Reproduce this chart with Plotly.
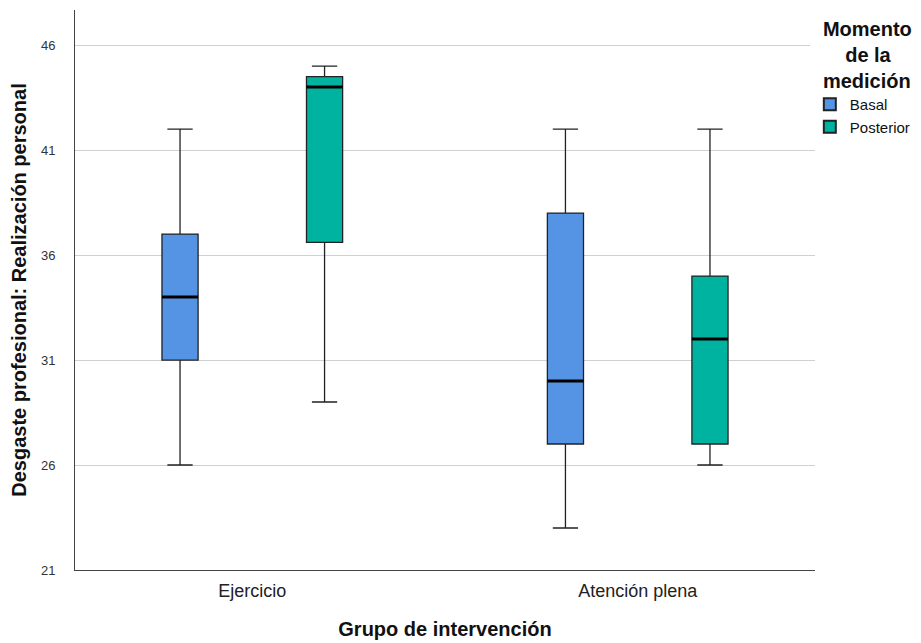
import plotly.graph_objects as go

categories = ["Ejercicio", "Atención plena"]
series = ["Basal", "Posterior"]
colors = {"Basal": "#5594E4", "Posterior": "#00B2A0"}

lower = {"Basal": [26, 23], "Posterior": [29, 26]}
q1 = {"Basal": [31, 27], "Posterior": [36.6, 27]}
median = {"Basal": [34, 30], "Posterior": [44, 32]}
q3 = {"Basal": [37, 38], "Posterior": [44.5, 35]}
upper = {"Basal": [42, 42], "Posterior": [45, 42]}

yticks = [21, 26, 31, 36, 41, 46]

fig = go.Figure()
for s in series:
    fig.add_trace(go.Box(
        name=s,
        x=categories,
        offsetgroup=s,
        q1=q1[s], median=median[s], q3=q3[s],
        lowerfence=lower[s], upperfence=upper[s],
        fillcolor=colors[s],
        line=dict(color="#222222", width=1.3),
        whiskerwidth=0.7,
        boxpoints=False,
        hoverinfo="skip",
    ))
# thicker median lines, drawn as degenerate boxes at the median
for s in series:
    fig.add_trace(go.Box(
        name=s + " mediana",
        x=categories,
        offsetgroup=s,
        q1=median[s], median=median[s], q3=median[s],
        lowerfence=median[s], upperfence=median[s],
        fillcolor="rgba(0,0,0,0)",
        line=dict(color="#000000", width=3),
        whiskerwidth=0,
        boxpoints=False,
        showlegend=False,
        hoverinfo="skip",
    ))

fig.update_layout(
    boxmode="group",
    boxgap=0.25,
    boxgroupgap=0.75,
    width=921, height=643,
    margin=dict(l=67, r=114, t=2, b=81),
    plot_bgcolor="white",
    paper_bgcolor="white",
    font=dict(family="Liberation Sans, Arial, sans-serif", color="#222222"),
    legend=dict(
        title=dict(text="<b>&nbsp;&nbsp;Momento<br>&nbsp;&nbsp;&nbsp;&nbsp;&nbsp;&nbsp;de la<br>&nbsp;&nbsp;medición</b>",
                   font=dict(size=20, color="#111111")),
        x=0.993, xanchor="left", y=1.0, yanchor="top",
        font=dict(size=15, color="#111111"),
        tracegroupgap=0,
        itemsizing="constant",
    ),
    xaxis=dict(
        type="category",
        range=[-0.46, 1.46],
        showline=True, linecolor="#444444", linewidth=1,
        ticks="", tickfont=dict(size=18, color="#222222"),
        ticklabelstandoff=4,
        title=dict(text="<b>Grupo de intervención</b>", font=dict(size=20, color="#111111"), standoff=22),
        showgrid=False,
    ),
    yaxis=dict(
        range=[21, 47.67],
        tickvals=yticks,
        showline=True, linecolor="#444444", linewidth=1,
        showgrid=True, gridcolor="#D0D0D0", gridwidth=1,
        zeroline=False,
        ticks="", tickfont=dict(size=13, color="#333333"),
        ticklabelstandoff=16,
        title=dict(text="<b>Desgaste profesional: Realización personal</b>", font=dict(size=20, color="#111111"), standoff=10),
    ),
)

fig.write_html("out.html")
